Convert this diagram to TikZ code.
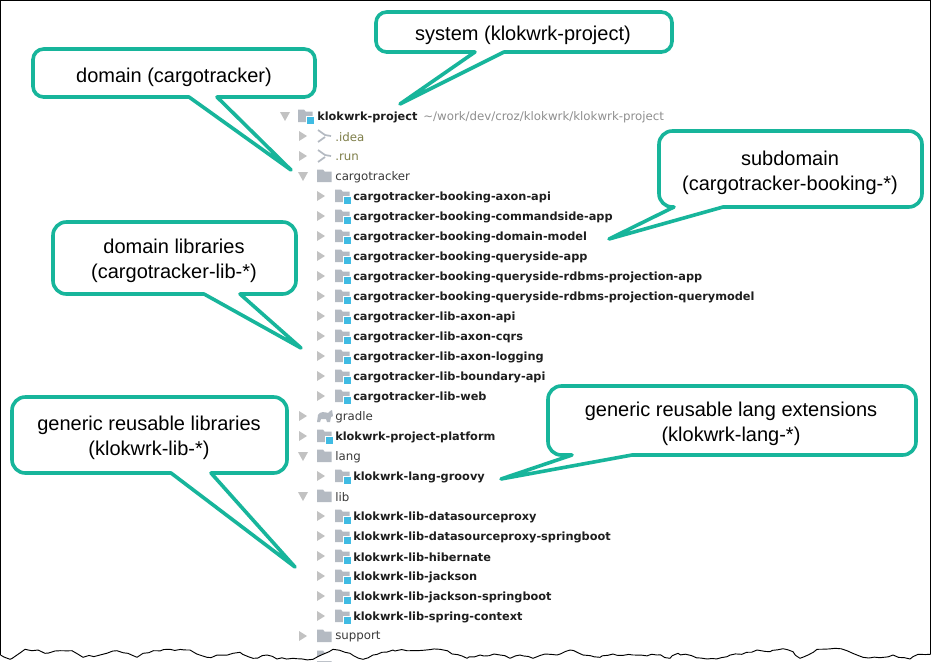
\documentclass[tikz,border=0pt]{standalone}
\usepackage{fontspec}
\usetikzlibrary{decorations.pathmorphing}
\setmainfont{Liberation Sans}
\newfontfamily\treefont{DejaVu Sans}
\definecolor{teal1}{HTML}{17B59B}
\definecolor{icongray}{HTML}{B4BAC2}
\definecolor{arrowgray}{HTML}{C2C2C2}
\definecolor{modblue}{HTML}{3FBBE3}
\definecolor{olive}{HTML}{7F7F4A}
\definecolor{pathgray}{HTML}{8F8F8F}
\definecolor{treeink}{HTML}{1E1E1E}
\definecolor{plainink}{HTML}{3A3A3A}
\tikzset{
  px/.style={x=0.75pt,y=-0.75pt},
  calloutline/.style={draw=teal1,fill=white,line width=2.7pt,line join=round},
  callouttext/.style={font=\fontsize{15pt}{18.75pt}\selectfont,align=center,text=black,inner sep=0pt},
  boldrow/.style={font=\treefont\fontsize{8.5pt}{10pt}\selectfont\bfseries,text=treeink,anchor=west,inner sep=0pt},
  plainrow/.style={font=\treefont\fontsize{8.85pt}{10pt}\selectfont,text=plainink,anchor=west,inner sep=0pt},
  hiddenrow/.style={font=\treefont\fontsize{8.85pt}{10pt}\selectfont,text=olive,anchor=west,inner sep=0pt},
  pathrow/.style={font=\treefont\fontsize{8.85pt}{10pt}\selectfont,text=pathgray,anchor=west,inner sep=0pt},
}
\newcommand{\trclosed}[2]{\fill[arrowgray] (#1-4,#2-5) -- (#1+4,#2) -- (#1-4,#2+5) -- cycle;}
\newcommand{\tropen}[2]{\fill[arrowgray] (#1-5,#2-4) -- (#1+5,#2-4) -- (#1,#2+5) -- cycle;}
\newcommand{\folder}[2]{\fill[icongray] (#1,#2-6.5) -- (#1+6,#2-6.5) -- (#1+7.5,#2-4.5) -- (#1+14.5,#2-4.5) -- (#1+14.5,#2+6) -- (#1,#2+6) -- cycle;}
\newcommand{\modfolder}[2]{\folder{#1}{#2}\fill[white] (#1+7.5,#2) rectangle (#1+16,#2+8.5);\fill[modblue] (#1+8.5,#2+1) rectangle (#1+15.5,#2+8);}
\newcommand{\exclfolder}[2]{\draw[icongray,line width=1.3pt] (#1+1,#2-6) -- (#1+8,#2-1) -- (#1+14,#2) (#1+8,#2+1) -- (#1+1,#2+6);}
\newcommand{\tearpts}{(930.5,654.3) -- (918,654.3) -- (910,659) -- (893,655) -- (880,657.7) -- (863,657.3) -- (847,650.7) -- (835,648.3) -- (817,649.3) -- (800,658.3) -- (793,651.7) -- (783,648.7) -- (770,651.7) -- (757,650) -- (727,656.7) -- (707,659) -- (678,653.3) -- (670,658.3) -- (657,655) -- (633,655) -- (613,654) -- (600,657.3) -- (583,655) -- (570,650) -- (557,655) -- (545,654) -- (533,658.3) -- (520,655) -- (510,658.3) -- (500,655) -- (480,655) -- (467,658.3) -- (440,649.3) -- (417,650.7) -- (393,650) -- (373,655) -- (363,659.3) -- (350,653.3) -- (333,649.3) -- (313,659.3) -- (293,658.3) -- (277,659) -- (267,655) -- (253,658.3) -- (240,652.3) -- (233,653.3) -- (207,657.3) -- (190,650) -- (170,649.3) -- (143,653.3) -- (137,657.3) -- (128,653.3) -- (117,650.7) -- (100,655) -- (83,657.3) -- (72,650.7) -- (60,650.7) -- (45,653.3) -- (38,650) -- (25,649.3) -- (17,655) -- (10,659.3) -- (0.5,655)}
\begin{document}
\begin{tikzpicture}[px]
\useasboundingbox (0,0) rectangle (931,661);
\fill[white] (0,0) rectangle (931,661);

% ---- tree ----
\tropen{285}{116}\modfolder{298}{116}
\node[boldrow] (root) at (317,117) {klokwrk-project};
\node[pathrow] (rootpath) at (423,117) {\textasciitilde/work/dev/croz/klokwrk/klokwrk-project};
\trclosed{303}{136}\exclfolder{317}{136}
\node[hiddenrow] (idea) at (335,137) {.idea};
\trclosed{303}{156}\exclfolder{317}{156}
\node[hiddenrow] (run) at (335,157) {.run};
\tropen{303}{176}\folder{317}{176}
\node[plainrow] (cargo) at (335,177) {cargotracker};

\foreach \yy/\nn/\lbl in {
 196/r1/cargotracker-booking-axon-api,
 216/r2/cargotracker-booking-commandside-app,
 236/r3/cargotracker-booking-domain-model,
 256/r4/cargotracker-booking-queryside-app,
 276/r5/cargotracker-booking-queryside-rdbms-projection-app,
 296/r6/cargotracker-booking-queryside-rdbms-projection-querymodel,
 316/r7/cargotracker-lib-axon-api,
 336/r8/cargotracker-lib-axon-cqrs,
 356/r9/cargotracker-lib-axon-logging,
 376/r10/cargotracker-lib-boundary-api,
 396/r11/cargotracker-lib-web,
 476/r12/klokwrk-lang-groovy,
 516/r13/klokwrk-lib-datasourceproxy,
 536/r14/klokwrk-lib-datasourceproxy-springboot,
 556/r15/klokwrk-lib-hibernate,
 576/r16/klokwrk-lib-jackson,
 596/r17/klokwrk-lib-jackson-springboot,
 616/r18/klokwrk-lib-spring-context}{
  \trclosed{321}{\yy}\modfolder{335}{\yy}
  \node[boldrow] (\nn) at (353,\yy+1) {\lbl};
}

\trclosed{303}{416}
\fill[icongray] (317,422) -- (318,415) .. controls (320,411) and (325,412) .. (328,413) -- (330,411) -- (332,410) -- (333,416) -- (331,417) -- (330,422) -- (327,422) -- (326,419) -- (321,419) -- (320,422) -- cycle;
\node[plainrow] (gradle) at (335,417) {gradle};
\trclosed{303}{436}\modfolder{317}{436}
\node[boldrow] (platform) at (335,437) {klokwrk-project-platform};
\tropen{303}{456}\folder{317}{456}
\node[plainrow] (lang) at (335,457) {lang};
\tropen{303}{496}\folder{317}{496}
\node[plainrow] (lib) at (335,497) {lib};
\trclosed{303}{636}\folder{317}{636}
\node[plainrow] (support) at (335,637) {support};
\folder{317}{657}

% ---- window frame and torn edge ----
\fill[white] \tearpts -- (0,661) -- (931,661) -- cycle;
\draw[black,line width=0.8pt] (0.5,655) -- (0.5,0.5) -- (930.5,0.5) -- (930.5,654.3);
\pgfmathsetseed{7}
\draw[black,line width=0.7pt,line join=round,decorate,decoration={random steps,segment length=4pt,amplitude=0.8pt}] \tearpts;

% ---- callouts ----
\draw[calloutline] (291,170) -- (189,97) [rounded corners=8pt] -- (33,97) -- (33,49) -- (315,49) -- (315,97) [sharp corners] -- (217,97) -- cycle;
\node[callouttext] (tdomain) at (174,77) {domain (cargotracker)};

\draw[calloutline] (400,104) -- (475,52) [rounded corners=8pt] -- (376,52) -- (376,12) -- (672,12) -- (672,52) [sharp corners] -- (504,52) -- cycle;
\node[callouttext] (tsystem) at (523,35) {system (klokwrk-project)};

\draw[calloutline] (609,239) -- (723,207) [rounded corners=10pt] -- (922,207) -- (922,131) -- (659,131) -- (659,207) [sharp corners] -- (674,207) -- cycle;
\node[callouttext] (tsub) at (790,173) {subdomain\\(cargotracker-booking-*)};

\draw[calloutline] (301,348) -- (204,294) [rounded corners=10pt] -- (53,294) -- (53,222) -- (296,222) -- (296,294) [sharp corners] -- (240,294) -- cycle;
\node[callouttext] (tdlib) at (174,261) {domain libraries\\(cargotracker-lib-*)};

\draw[calloutline] (295,567) -- (171,473) [rounded corners=10pt] -- (12,473) -- (12,397) -- (287,397) -- (287,473) [sharp corners] -- (211,473) -- cycle;
\node[callouttext] (tglib) at (149,438) {generic reusable libraries\\(klokwrk-lib-*)};

\draw[calloutline] (501,479) -- (632,455) [rounded corners=10pt] -- (916,455) -- (916,386) -- (548,386) -- (548,455) [sharp corners] -- (572,455) -- cycle;
\node[callouttext] (tlang) at (731,424) {generic reusable lang extensions\\(klokwrk-lang-*)};
\end{tikzpicture}
\end{document}
